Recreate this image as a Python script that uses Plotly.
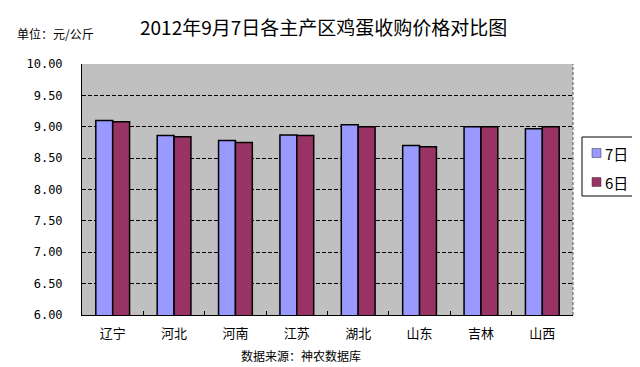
import plotly.graph_objects as go

categories = ["辽宁", "河北", "河南", "江苏", "湖北", "山东", "吉林", "山西"]
price_7 = [9.10, 8.86, 8.78, 8.87, 9.03, 8.70, 9.00, 8.97]
price_6 = [9.08, 8.84, 8.75, 8.86, 9.00, 8.68, 9.00, 9.00]
series_names = ["7日", "6日"]
series_colors = ["#9999FF", "#993366"]
y_ticks = [6.0, 6.5, 7.0, 7.5, 8.0, 8.5, 9.0, 9.5, 10.0]
y_tick_labels = ["%.2f" % v for v in y_ticks]

OFF = 8  # default page body margin
W, H = 640 - OFF, 367 - OFF
L, T = 82 - OFF, 64 - OFF
PR, PB = 573 - OFF, 315 - OFF
R, B = W - PR, H - PB
PW, PH = PR - L, PB - T


def px(x):
    return (x - OFF - L) / PW


def py(y):
    return (PB - (y - OFF)) / PH


fig = go.Figure()
for name, vals, col in zip(series_names, [price_7, price_6], series_colors):
    fig.add_trace(go.Bar(name=name, x=categories, y=vals,
                         marker=dict(color=col, line=dict(color="black", width=1.5))))

cjk = "Noto Sans CJK SC"

annotations = [
    dict(text="2012年9月7日各主产区鸡蛋收购价格对比图", x=px(323), y=py(27),
         xanchor="center", yanchor="middle", font=dict(size=19, family=cjk)),
    dict(text="单位：元/公斤", x=px(15), y=py(33), xanchor="left", yanchor="middle",
         font=dict(size=12, family=cjk)),
    dict(text="数据来源：神农数据库", x=px(301), y=py(355), xanchor="center", yanchor="middle",
         font=dict(size=12, family=cjk)),
]
shapes = [
    dict(type="line", x0=1, x1=1, y0=0, y1=1,
         line=dict(color="#555555", width=1, dash="3px,2px")),
    dict(type="rect", x0=px(582), x1=px(633), y0=py(196), y1=py(137),
         line=dict(color="black", width=1), fillcolor="white"),
]
legend_rows = [153, 182]
for name, col, yc in zip(series_names, series_colors, legend_rows):
    shapes.append(dict(type="rect", x0=px(592), x1=px(601), y0=py(yc + 4.5), y1=py(yc - 4.5),
                       line=dict(color="#333333", width=0.5), fillcolor=col))
    annotations.append(dict(text=name, x=px(603), y=py(yc), xanchor="left", yanchor="middle",
                            font=dict(size=15, family=cjk)))

for a in annotations:
    a.update(xref="paper", yref="paper", showarrow=False)
for s in shapes:
    s.update(xref="paper", yref="paper")

fig.update_layout(
    width=W, height=H,
    margin=dict(l=L, r=R, t=T, b=B, autoexpand=False),
    paper_bgcolor="white", plot_bgcolor="#C0C0C0",
    barmode="group", bargap=0.45, bargroupgap=0,
    font=dict(family=cjk, color="black", size=12),
    showlegend=False,
    xaxis=dict(showline=True, linecolor="black", linewidth=1, mirror=False,
               ticks="inside", tickson="boundaries", ticklen=4, tickcolor="black",
               tickfont=dict(size=13, family=cjk), showgrid=False,
               ticklabelstandoff=6),
    yaxis=dict(range=[6, 10], tickvals=y_ticks, ticktext=y_tick_labels,
               showline=True, linecolor="black", linewidth=1,
               showgrid=True, gridcolor="black", griddash="4px,2px", gridwidth=1,
               tickfont=dict(size=12, family="DejaVu Sans Mono"), ticks="", zeroline=False,
               ticklabelstandoff=16),
    annotations=annotations,
    shapes=shapes,
)

fig.write_html("out.html")
